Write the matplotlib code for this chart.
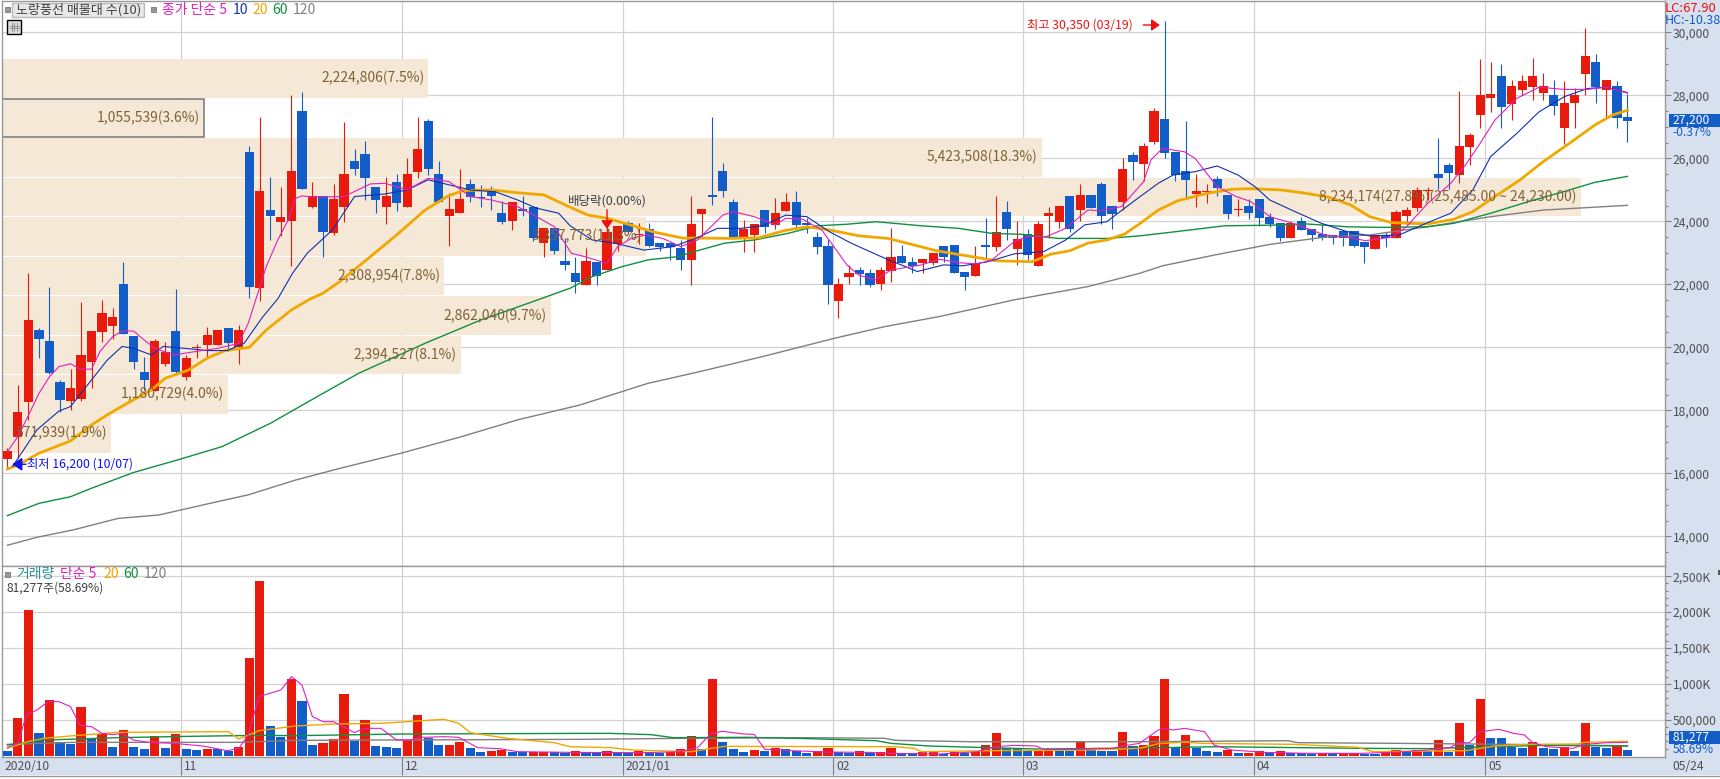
# 노랑풍선 일봉 차트 + 매물대 + 거래량
import matplotlib
matplotlib.use('Agg')
import matplotlib.pyplot as plt
from matplotlib.patches import Rectangle

plt.rcParams['font.family'] = ['Noto Sans CJK KR', 'DejaVu Sans']

# 시가 / 고가 / 저가 / 종가
opens = [16450, 17150, 18270, 20550, 20200, 18900, 18300, 18350, 19550, 20500, 20680, 22000, 20350, 19220, 18620, 19470, 20520, 19060, 19980, 20080,
         20080, 20620, 20020, 26200, 21890, 24360, 23980, 24010, 27500, 24460, 24800, 23630, 24460, 25920, 26140, 25100, 24460, 25250, 24460, 25570,
         27190, 25500, 24170, 24270, 25190, 24760, 24970, 24270, 24010, 24390, 24460, 23320, 23790, 22740, 22360, 21980, 22710, 22460, 23280, 23950,
         23570, 23760, 23320, 23320, 23160, 22780, 24240, 24840, 25600, 24620, 23470, 23570, 24360, 23890, 24330, 24620, 23950, 23510, 23220, 21470,
         22240, 22460, 22360, 22010, 22430, 22900, 22710, 22680, 22680, 23220, 23250, 22400, 22270, 23250, 23190, 24300, 23130, 23600, 22590, 24170,
         23980, 24810, 24360, 24840, 25190, 24490, 24620, 26110, 25820, 26520, 27250, 26200, 25600, 24870, 24930, 25350, 24840, 24360, 24490, 24710,
         24140, 23950, 23470, 24010, 23760, 23600, 23570, 23700, 23700, 23350, 23130, 23570, 23470, 24170, 24430, 24970, 25500, 25790, 25470, 26360,
         27380, 27920, 28620, 27730, 28170, 28270, 28080, 28010, 26970, 27760, 28680, 29060, 28170, 28300, 27300]
highs = [16800, 18810, 22350, 20630, 21910, 18970, 19320, 21440, 20520, 21510, 21250, 22710, 20360, 19700, 20270, 20170, 21850, 19760, 20110, 20650,
         20550, 20620, 20710, 26390, 27310, 25410, 25090, 28010, 28110, 25250, 24810, 25190, 27160, 26300, 26550, 25090, 25410, 25500, 26010, 27310,
         27250, 25920, 24900, 25660, 25350, 25160, 25120, 24650, 24620, 24810, 24460, 23790, 23790, 23470, 22870, 23160, 22710, 23900, 23850, 24010,
         23950, 23950, 23320, 23320, 23410, 24810, 24390, 27310, 25850, 24710, 24050, 23920, 24360, 24740, 24900, 24970, 24110, 23660, 23440, 22200,
         22620, 22550, 22490, 22550, 23790, 23250, 22870, 22810, 23000, 23220, 23250, 22400, 23220, 24110, 24810, 24650, 24010, 23760, 24010, 24460,
         24490, 24810, 25190, 24840, 25250, 24490, 26010, 26200, 26490, 27600, 30350, 26200, 27190, 25500, 25190, 25440, 24840, 24710, 24710, 24710,
         24270, 23950, 24000, 24140, 23760, 23920, 23570, 23700, 23700, 23350, 23570, 23660, 24360, 24460, 25090, 25090, 26650, 25850, 28140, 26810,
         29150, 29060, 29000, 28490, 28650, 29190, 28710, 28490, 28460, 28240, 30140, 29310, 28490, 28460, 28040]
lows = [16200, 16500, 17700, 19660, 19150, 17960, 18010, 18300, 18720, 20170, 20270, 20430, 19320, 18650, 18620, 19410, 19190, 18970, 19660, 19660,
        20080, 19890, 19480, 21580, 21480, 23410, 23540, 22580, 25030, 24430, 22870, 23570, 23980, 25470, 24680, 24270, 23920, 24330, 24460, 25380,
        25470, 24620, 23220, 24270, 24620, 24460, 24360, 23920, 23730, 24170, 23380, 22870, 22970, 22460, 21730, 21980, 21980, 22460, 23060, 23600,
        23280, 23190, 23060, 22780, 22460, 21980, 23470, 24520, 24780, 23470, 23030, 23030, 23630, 23760, 24330, 23760, 23630, 22970, 21380, 20930,
        22010, 21980, 21920, 21820, 22080, 22680, 22360, 22360, 22620, 22710, 22360, 21820, 22270, 22780, 23060, 23410, 22620, 22780, 22590, 23470,
        23790, 23660, 24010, 24430, 23920, 23760, 24360, 25320, 25280, 26460, 26010, 25280, 24780, 24460, 24590, 24810, 24080, 24170, 24080, 23850,
        23820, 23380, 23470, 23730, 23380, 23410, 23280, 23220, 23190, 22680, 23130, 23190, 23470, 23890, 24330, 24680, 25030, 25030, 25220, 25790,
        26970, 27470, 26970, 27220, 28010, 27850, 27850, 27380, 26460, 26970, 28010, 27760, 27280, 26970, 26520]
closes = [16700, 17950, 20870, 20270, 19190, 18330, 18710, 19760, 20520, 21090, 20970, 20430, 19540, 18970, 20200, 19860, 19220, 19660, 20020, 20400,
          20550, 20140, 20550, 21930, 24970, 24170, 24140, 25600, 25030, 24810, 23660, 24710, 25500, 25660, 25380, 24680, 24810, 24590, 25500, 26300,
          25660, 24620, 24390, 24710, 24780, 24740, 24810, 23980, 24620, 24330, 23470, 23790, 23060, 22620, 22080, 22740, 22270, 23660, 23850, 23660,
          23600, 23220, 23190, 23190, 22780, 23920, 24390, 24780, 24970, 23470, 23760, 23920, 23820, 24270, 24620, 23890, 23890, 23190, 21980, 22010,
          22360, 22330, 21980, 22460, 22870, 22680, 22590, 22810, 23000, 22870, 22360, 22240, 22650, 23190, 23660, 23760, 23440, 22930, 23920, 24270,
          24490, 23760, 24840, 24430, 24170, 24240, 25660, 25890, 26390, 27500, 26170, 25470, 25320, 24970, 24970, 25060, 24240, 24390, 24270, 24110,
          23920, 23470, 23950, 23730, 23570, 23470, 23470, 23470, 23220, 23190, 23570, 23470, 24300, 24360, 25000, 25000, 25380, 25540, 26390, 26740,
          28010, 28040, 27630, 28300, 28460, 28620, 28300, 27660, 27760, 28010, 29250, 28270, 28490, 27280, 27200]

# 이동평균선 (그림에서 읽은 꼭짓점)
ma5_x = [0, 1, 2.1, 3, 4, 4.9, 6, 6.9, 8, 8.8, 10, 10.9, 12, 12.8, 14, 15.8, 17.9, 20, 22, 22.9, 23.9, 24.6, 25.7, 26.7, 27.4, 28, 29.2, 32, 34.5, 35.9, 38, 40, 42, 44, 46, 48.5, 50.3, 52, 53.6,
         54.9, 57, 58, 59.3, 60.7, 62.3, 64, 65.6, 68, 69, 71, 73, 74, 75.6, 77.4, 78.8, 79.8, 80.9, 82.5, 84, 86.9, 88.6, 90.4, 92.2, 93.6, 95.7, 97, 98.8, 100.6, 102.7, 104, 105.9, 108,
         108.7, 109.8, 111.9, 112.9, 114, 115, 116.8, 118.2, 120, 121.7, 123.5, 125.2, 127.3, 129.1, 131.6, 133, 135, 137.2, 138.6, 140, 141.4, 143.5, 145.6, 148, 150.2, 152, 154]
ma5 = [16690, 17170, 17910, 18540, 19070, 19390, 19480, 19310, 19310, 19870, 20340, 20520, 20520, 20290, 19970, 19760, 19870, 19970, 20130, 20770, 21820, 22560, 23410, 24050, 24730, 24810, 24770, 24790, 25190, 25210, 25000, 25370, 25260, 24790, 24680, 24470, 24150, 23830, 22990,
       22880, 22670, 23200, 23460, 23570, 23460, 23200, 23410, 24200, 24310, 24150, 23890, 24100, 24070, 23730, 23090, 22620, 22300, 22140, 22460, 22620, 22800, 22690, 22650, 22780, 23360, 23520, 23520, 23780, 24360, 24340, 24470, 25260,
       25950, 26320, 26210, 26000, 25530, 25100, 24790, 24630, 24150, 23990, 23780, 23570, 23500, 23390, 23500, 23830, 24570, 25210, 25790, 26480, 27220, 27910, 28260, 28190, 28190, 28260, 28070]
ma10_x = [0.5, 2.8, 4.9, 6, 8, 9.5, 10.9, 12, 13.7, 14.8, 16.9, 19, 20.9, 22.5, 24.3, 25.7, 27.1, 28.5, 30.9, 33, 35.9, 38, 40, 42.5, 44, 46.4, 48.5, 50.3, 52.4, 53.5,
          55.6, 57.7, 60.5, 63.3, 65.4, 67.5, 69.7, 71.8, 74, 76, 78.1, 80.2, 83.4, 86.5, 89, 90.8, 93.2, 95.7, 98.5, 100.6, 102.4, 104.5, 106.2, 107.6,
          109.4, 110.8, 112.9, 115, 117, 118.6, 120, 122.4, 124.9, 127.3, 129.5, 132.3, 135, 137.2, 139.3, 141, 143.5, 145.6, 148, 150.2, 152, 154]
ma10 = [16220, 17380, 17980, 18120, 18970, 19600, 20030, 19970, 19760, 20030, 19970, 19900, 19900, 20130, 20980, 21540, 22350, 22990, 23730, 24790, 24870, 25000, 25320, 25120, 25000, 24940, 24680, 24420, 24260, 23860,
        23410, 23310, 23090, 23200, 23460, 23780, 23780, 23860, 24200, 24150, 23680, 23310, 22830, 22410, 22620, 22590, 22720, 22970, 23040, 23410, 23890, 23990, 24420, 24770,
        25210, 25470, 25580, 25760, 25470, 25100, 24680, 24310, 23940, 23680, 23540, 23570, 23960, 24260, 25000, 26060, 26800, 27480, 27960, 28220, 28260, 28090]
ma20_x = [0, 1, 3, 6, 8, 9.5, 11.3, 13.7, 15, 17.2, 19, 20.7, 23, 24.6, 27, 28.8, 30, 31.6, 34.5, 37, 39.7, 41.8, 43.3, 46, 48.5, 51, 53.5, 55.2, 57, 59.5, 61.6, 64.2, 65.8, 68.6, 71.4, 73.9, 76, 77.8, 81, 83.7, 86.2, 88.3, 90.8, 94, 97.4, 99.2, 101, 102.7, 104.5, 106.2, 107.6,
          109.4, 111.2, 114, 116.4, 118.2, 121, 123.1, 125.6, 127.7, 129.5, 131.6, 135, 137.5, 139.3, 141.4, 143.8, 146, 148.7, 150.9, 152.6, 154]
ma20 = [16140, 16270, 16640, 17030, 17540, 17860, 18210, 18650, 19020, 19280, 19660, 19900, 20000, 20550, 21190, 21540, 21720, 22090, 22880, 23570, 24360, 24790, 24980, 25000, 24910, 24840, 24450, 24200, 24100, 23860, 23650, 23470, 23470, 23460, 23480, 23710, 23830, 23750, 23540, 23460, 23250, 23070, 22930, 22750, 22720, 22960, 23070, 23310, 23410, 23600, 23920,
        24360, 24650, 24890, 25020, 25040, 25000, 24910, 24770, 24520, 24150, 23960, 23920, 24070, 24310, 24790, 25320, 25900, 26530, 27060, 27380, 27530]
ma60_x = [0, 3, 6, 8, 12, 16.2, 20.4, 25, 29.2, 33.4, 39.7, 45, 49.5, 53.5, 55.6, 58.4, 60.9, 63.7, 65.8, 68.2, 71, 74.2, 77, 79.8, 82.6, 86.9, 90.4, 93.6, 96.4, 99.9, 104.5, 107.6, 111.2, 115.7, 120, 123.5, 127.3, 130.5, 135, 137.5, 141, 144.6, 148, 150.9, 154]
ma60 = [14660, 15050, 15260, 15530, 16030, 16430, 16850, 17590, 18390, 19180, 20130, 20870, 21400, 21880, 22250, 22560, 22780, 22880, 23090, 23310, 23410, 23620, 23860, 23910, 23990, 23860, 23780, 23620, 23590, 23460, 23460, 23540, 23680, 23860, 23880, 23920, 23830, 23810, 23830, 23940, 24260, 24630, 24950, 25240, 25430]
ma120_x = [0, 2.8, 6.3, 10.5, 14.4, 19, 22.9, 27.4, 31.6, 37.4, 43.2, 48.5, 54.4, 60.9, 65.8, 71.8, 78.5, 83.4, 88.6, 95.7, 102.7, 107.6, 109.8, 114.7, 120, 125.2, 129.5, 135, 141, 146, 154]
ma120 = [13720, 13970, 14210, 14570, 14680, 15030, 15320, 15790, 16160, 16640, 17170, 17700, 18170, 18860, 19230, 19710, 20280, 20660, 20980, 21510, 21930, 22350, 22590, 22930, 23270, 23500, 23570, 23830, 24150, 24360, 24510]

# 매물대
zone_low = [27930, 26690, 25420, 24170, 22900, 21660, 20390, 19170, 17900, 16660]
zone_high = [29160, 27880, 26650, 25380, 24150, 22880, 21630, 20370, 19120, 17880]
zone_vol = [2224806, 1055539, 5423508, 8234174, 3357773, 2308954, 2862040, 2394527, 1180729, 571939]
zone_pct = [7.5, 3.6, 18.3, 27.8, 11.3, 7.8, 9.7, 8.1, 4.0, 1.9]

# 거래량 (천주)
volume = [65, 525, 2031, 316, 776, 191, 163, 678, 242, 302, 121, 358, 121, 93, 274, 107, 302, 93, 79, 93,
          88, 65, 121, 1362, 2435, 414, 260, 1069, 762, 149, 177, 232, 860, 204, 497, 135, 121, 107, 218, 567,
          246, 149, 151, 191, 107, 51, 65, 84, 51, 50, 56, 57, 51, 42, 60, 42, 41, 65, 42, 41,
          65, 56, 42, 56, 93, 274, 93, 1069, 191, 93, 51, 79, 65, 107, 93, 65, 37, 65, 107, 56,
          37, 65, 37, 51, 107, 42, 41, 51, 56, 28, 46, 42, 56, 149, 316, 107, 102, 65, 66, 98,
          65, 63, 191, 107, 65, 60, 330, 135, 149, 274, 1069, 121, 288, 107, 65, 51, 79, 40, 44, 60,
          42, 65, 42, 41, 28, 42, 32, 42, 43, 28, 27, 56, 79, 65, 84, 65, 218, 56, 455, 149,
          790, 246, 245, 121, 107, 191, 107, 93, 121, 65, 455, 121, 107, 149, 81.277]
vol5_x = [0, 1, 1.8, 2.8, 3.9, 4.9, 6, 6.9, 8, 9, 10, 10.9, 12, 13.4, 15.8, 18.6, 20.9, 22, 22.9, 23.9, 26, 27, 28, 29, 30, 31, 33, 33.9, 35.5, 37, 38.3, 39.4, 41.5, 42.9, 44.7, 46.8, 48.5, 53.8,
          60.5, 64, 65.6, 66.9, 68, 70, 71, 72, 74.6, 78, 82, 83.4, 88.6, 92.2, 93.9, 95.7, 97.8, 98.5, 101.7, 103.4, 105, 106.2, 107.6,
          109.4, 110, 110.8, 111.9, 113.8, 114.7, 116.4, 119.6, 123.5, 128.7, 132.3, 135, 137.2, 137.9, 139, 140, 141.8, 143.2, 144.2, 145, 146.3, 148.8, 149.9, 152, 154]
vol5 = [116, 172, 567, 637, 753, 753, 683, 423, 404, 311, 293, 311, 218, 186, 172, 135, 70, 102, 288, 823, 915, 1101, 985, 544, 474, 474, 321, 381, 381, 218, 218, 256, 265, 256, 112, 98, 56, 46,
        42, 56, 112, 311, 339, 302, 297, 88, 70, 51, 46, 33, 23, 56, 125, 144, 135, 88, 88, 102, 102, 139, 172,
        358, 381, 358, 381, 335, 149, 79, 46, 33, 33, 51, 79, 116, 181, 181, 335, 367, 311, 288, 181, 125, 102, 158, 181, 186]
vol20_x = [0, 1.9, 3.5, 6.3, 10.5, 21, 22, 23.9, 27.4, 30.9, 35.5, 38, 41.5, 42.9, 44, 47.5, 52, 53.5, 57.3, 59.5, 65, 66.9, 68.2, 84.4, 86.2, 86.9, 93.6, 102.7, 107.6, 109.4, 111.9, 113.6, 122.4, 128.4, 129.8, 138.6, 141.4, 144.6, 149.2, 149.9, 154]
vol20 = [102, 195, 242, 279, 325, 335, 232, 349, 414, 441, 451, 474, 507, 451, 321, 242, 181, 125, 112, 79, 56, 102, 130, 125, 102, 56, 70, 79, 102, 167, 190, 172, 158, 116, 56, 70, 135, 158, 163, 186, 200]
vol60_x = [0, 3.5, 10.5, 17.4, 21.8, 24.6, 27.4, 37.3, 54.4, 57.3, 61.2, 63.3, 70.4, 76.3, 82.6, 84, 87.6, 93.2, 98, 107.6, 114.7, 129.5, 135, 141, 146.3, 154]
vol60 = [149, 218, 251, 270, 279, 283, 279, 302, 311, 311, 293, 251, 256, 237, 209, 172, 135, 112, 93, 107, 125, 102, 98, 125, 144, 135]
vol120_x = [0, 6.3, 21.8, 27.4, 54.4, 64.3, 76.3, 83.4, 84.4, 91.4, 108.6, 121.7, 122.7, 132.3, 143, 154]
vol120 = [158, 186, 186, 214, 228, 242, 251, 242, 214, 195, 195, 209, 181, 172, 158, 139]

months = [16.5, 37.5, 58.5, 78.5, 96.5, 118.5, 140.5]
month_labels = ['11', '12', '2021/01', '02', '03', '04', '05']
price_ticks = [14000, 16000, 18000, 20000, 22000, 24000, 26000, 28000, 30000]
vol_ticks = [500, 1000, 1500, 2000, 2500]

W, H = 1720, 779
RED = '#e81a0c'
BLUE = '#135dc8'
MAG = '#e020c0'
NAVY = '#1030b0'
ORG = '#f0a800'
GRN = '#109040'
GRY = '#808080'
GRID = '#d2d2d2'
PANEL = '#d6e0ee'
TXT = '#505050'
ZONE = '#f5e8d7'
ZTXT = '#806234'
NUM = 8.7


def px_axes(left, top, right, bottom, **kw):
    return fig.add_axes([left / W, 1 - bottom / H, (right - left) / W, (bottom - top) / H], **kw)


fig = plt.figure(figsize=(W / 100, H / 100), dpi=100, facecolor='white')

# 배경 (픽셀 좌표)
bg = px_axes(0, 0, W, H, zorder=-1)
bg.set_xlim(0, W)
bg.set_ylim(H, 0)
bg.axis('off')
bg.add_patch(Rectangle((1664.6, 0), W - 1664.6, 775, fc=PANEL, ec='none'))
bg.add_patch(Rectangle((0, 757), W, 18, fc=PANEL, ec='none'))
bg.plot([0, W], [775.5, 775.5], color='#999999', lw=1)

XMIN, XMAX = -0.56, 157.53
x = list(range(len(closes)))

# 가격 차트
ax = px_axes(1.5, 1, 1664.6, 565.7)
ax.set_xlim(XMIN, XMAX)
ax.set_ylim(13070, 30997)
ax.set_xticks(months)
ax.set_xticklabels([])
ax.set_yticks(price_ticks)
ax.set_yticks(list(range(13500, 31000, 500)), minor=True)
ax.set_yticklabels([f'{t:,}' for t in price_ticks])
ax.yaxis.tick_right()
ax.tick_params(axis='y', which='major', length=4.3, width=0.8, color=GRY, pad=1.5, labelsize=NUM, labelcolor=TXT)
ax.tick_params(axis='y', which='minor', length=2.2, width=0.8, color=GRY)
ax.tick_params(axis='x', length=0)
ax.grid(True, axis='both', color=GRID, lw=0.9, zorder=0)
ax.set_axisbelow(True)
for s in ax.spines.values():
    s.set_color('#999999')
    s.set_linewidth(1)

zone_scale = (XMAX - XMIN) / 8.67e6
for i in range(len(zone_vol)):
    w = zone_vol[i] * zone_scale
    sel = i == 1
    ax.barh((zone_low[i] + zone_high[i]) / 2, w, zone_high[i] - zone_low[i], left=XMIN, color=ZONE,
            edgecolor=GRY if sel else 'none', linewidth=1.2 if sel else 0, zorder=1)
    label = f'{zone_vol[i]:,}({zone_pct[i]:.1f}%)'
    if i == 3:
        label += '(25,485.00 ~ 24,230.00)'
    ax.annotate(label, ((XMIN + w), (zone_low[i] + zone_high[i]) / 2), xytext=(-3, 0), textcoords='offset points',
                ha='right', va='center', fontsize=10, color=ZTXT, zorder=8)

# 캔들
for i in x:
    col = RED if closes[i] >= opens[i] else BLUE
    ax.vlines(i, lows[i], highs[i], color=col, lw=0.8, zorder=3)
    h = abs(closes[i] - opens[i])
    ax.bar(i, max(h, 30), 0.87, bottom=min(opens[i], closes[i]), color=col, zorder=3)

ax.plot(ma120_x, ma120, color=GRY, lw=1.0, zorder=4)
ax.plot(ma60_x, ma60, color=GRN, lw=1.0, zorder=4)
ax.plot(ma20_x, ma20, color=ORG, lw=2.0, zorder=4)
ax.plot(ma10_x, ma10, color=NAVY, lw=0.8, zorder=4)
ax.plot(ma5_x, ma5, color=MAG, lw=0.8, zorder=4)

# 최고 / 최저 / 배당락
arrow_red = dict(arrowstyle='-|>,head_width=0.35,head_length=0.5', color='#f01010', lw=1, shrinkA=0, shrinkB=0, mutation_scale=10)
arrow_blue = dict(arrowstyle='-|>,head_width=0.4,head_length=0.6', color='#1010f0', lw=1, shrinkA=0, shrinkB=0, mutation_scale=10)
ax.annotate('', (110 - 0.45, 30235), xytext=(-12, 0), textcoords='offset points', arrowprops=arrow_red, zorder=9)
ax.annotate('최고 30,350 (03/19)', (110 - 0.45, 30235), xytext=(-19.5, 0), textcoords='offset points',
            ha='right', va='center', fontsize=8.8, color='#f01010', zorder=9)
ax.annotate('', (0.45, 16290), xytext=(10, 0), textcoords='offset points', arrowprops=arrow_blue, zorder=9)
ax.annotate('최저 16,200 (10/07)', (0.45, 16290), xytext=(10.5, 0), textcoords='offset points',
            ha='left', va='center', fontsize=8.8, color='#1010f0', zorder=9)
ax.annotate('배당락(0.00%)', (57, 24655), ha='center', va='center', fontsize=9, color='#404040', zorder=9)
ax.annotate('', (57, 23760), xytext=(0, 14), textcoords='offset points', arrowprops=arrow_red, zorder=9)

# 거래량 차트
vx = px_axes(1.5, 565.7, 1664.6, 757)
vx.set_xlim(XMIN, XMAX)
vx.set_ylim(-18, 2646)
vx.set_xticks(months)
vx.set_xticklabels([])
vx.set_yticks(vol_ticks)
vx.set_yticks(list(range(100, 2600, 100)), minor=True)
vx.set_yticklabels(['500,000', '1,000K', '1,500K', '2,000K', '2,500K'])
vx.yaxis.tick_right()
vx.tick_params(axis='y', which='major', length=4.3, width=0.8, color=GRY, pad=1.5, labelsize=NUM, labelcolor=TXT)
vx.tick_params(axis='y', which='minor', length=2.2, width=0.8, color=GRY)
vx.tick_params(axis='x', length=13, width=0.8, color=GRY)
vx.grid(True, axis='both', color=GRID, lw=0.9, zorder=0)
vx.set_axisbelow(True)
for s in vx.spines.values():
    s.set_color('#999999')
    s.set_linewidth(1)

vol_cols = [BLUE] + [RED if volume[i] > volume[i - 1] else BLUE for i in range(1, len(volume))]
vx.bar(x, volume, 0.87, color=vol_cols, zorder=3)
vx.plot(vol120_x, vol120, color=GRY, lw=1.0, zorder=4)
vx.plot(vol60_x, vol60, color=GRN, lw=1.0, zorder=4)
vx.plot(vol20_x, vol20, color=ORG, lw=1.0, zorder=4)
vx.plot(vol5_x, vol5, color=MAG, lw=0.8, zorder=4)

# 날짜 라벨
vx.annotate('2020/10', (XMIN, 0), xycoords=('data', 'axes fraction'), xytext=(2, -7), textcoords='offset points',
            ha='left', va='center', fontsize=NUM, color=TXT)
for m, lab in zip(months, month_labels):
    vx.annotate(lab, (m, 0), xycoords=('data', 'axes fraction'), xytext=(2, -7), textcoords='offset points',
                ha='left', va='center', fontsize=NUM, color=TXT)

# 상단/우측 글자 (픽셀 좌표)
top = px_axes(0, 0, W, H, zorder=10)
top.set_xlim(0, W)
top.set_ylim(H, 0)
top.axis('off')
top.patch.set_alpha(0)


def label(px, py, s, color=TXT, size=NUM, ha='left', **kw):
    top.text(px, py, s, color=color, fontsize=size, ha=ha, va='center', **kw)


top.add_patch(Rectangle((12, 2.7), 131.5, 14, fc='#e8e8e8', ec='#bbbbbb', lw=1))
label(16, 9.5, '노랑풍선 매물대 수(10)', color='#404040', size=9.4)
for sx, sy in [(7.4, 9), (153.5, 9), (7.4, 574)]:
    top.add_patch(Rectangle((sx - 2.5, sy - 2.5), 5, 5, fc='#999999', ec='#777777', lw=0.6))
label(162, 9.5, '종가 단순 5', color=MAG, size=10)
label(233, 9.5, '10', color=NAVY, size=10)
label(252.7, 9.5, '20', color=ORG, size=10)
label(272.7, 9.5, '60', color=GRN, size=10)
label(293, 9.5, '120', color=GRY, size=10)

top.add_patch(Rectangle((7.4, 20), 13.3, 13.7, fc='#dddddd', ec='black', lw=1))
for gx in [11.5, 14, 16.5]:
    top.plot([gx, gx], [23, 31], color='#888888', lw=0.6)
for gy in [25.5, 28]:
    top.plot([9.5, 18.5], [gy, gy], color='#888888', lw=0.6)

label(16.6, 574, '거래량', color='#309090', size=10)
label(60, 574, '단순 5', color=MAG, size=10)
label(103, 574, '20', color=ORG, size=10)
label(123, 574, '60', color=GRN, size=10)
label(143.5, 574, '120', color=GRY, size=10)
label(6.7, 587.7, '81,277주(58.69%)', color='#404040')

label(1665, 8, 'LC:67.90', color='#f01010', size=9.4)
label(1665, 20, 'HC:-10.38', color=BLUE, size=9)
top.add_patch(Rectangle((1669, 114), 51, 12.7, fc=BLUE, ec='none'))
label(1672.7, 120.3, '27,200', color='white')
label(1672.7, 132.3, '-0.37%', color=BLUE)
top.add_patch(Rectangle((1669, 731), 51, 12.7, fc=BLUE, ec='none'))
label(1672.7, 737.3, '81,277', color='white')
label(1672.7, 749.3, '58.69%', color=BLUE)
label(1672.7, 766.5, '05/24')
top.add_patch(Rectangle((1718, 570), 2, 5, fc='#555555', ec='none'))

fig.savefig('out.png', dpi=100)
